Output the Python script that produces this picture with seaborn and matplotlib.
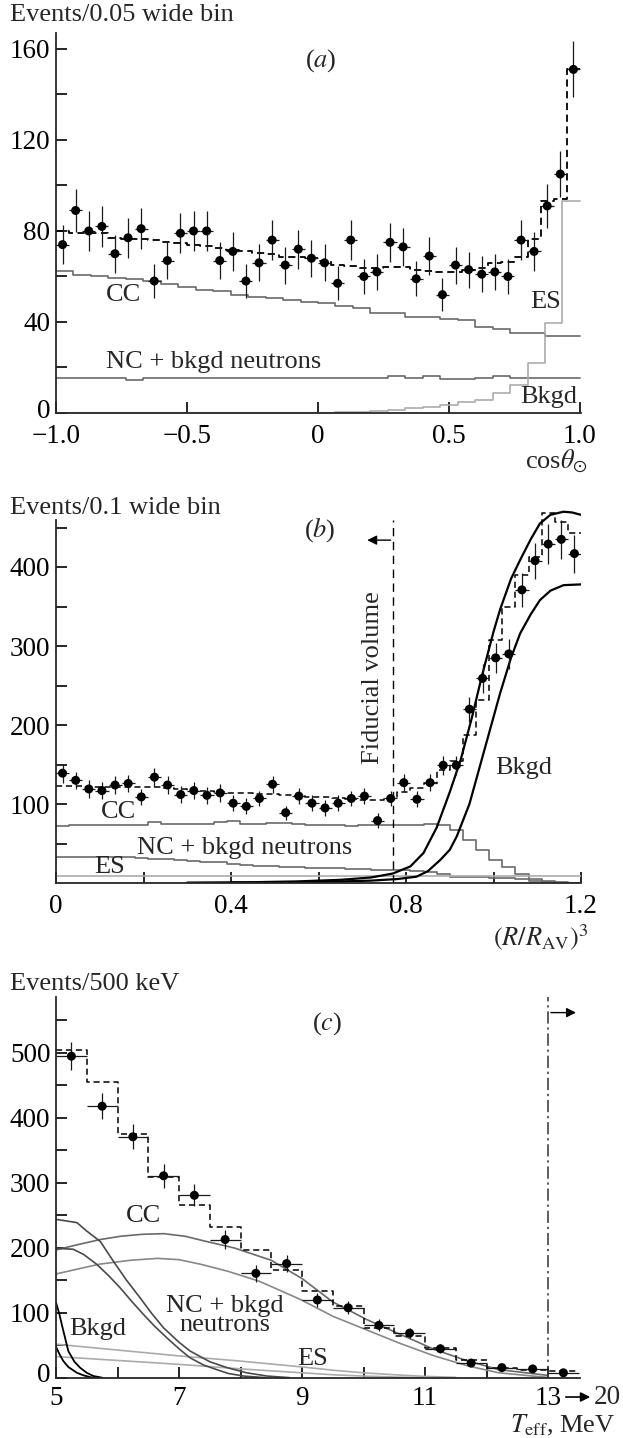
import numpy as np
import pandas as pd
import seaborn as sns
import matplotlib.pyplot as plt
from matplotlib.transforms import ScaledTranslation

# ---------------- data ----------------
# (a) cos(theta_sun), 40 data bins of 0.05, MC shapes in 30 bins
a_pts = [74, 89, 80, 82, 70, 77, 81, 58, 67, 79, 80, 80, 67, 71, 58, 66, 76, 65, 72, 68,
         66, 57, 76, 60, 62, 75, 73, 59, 69, 52, 65, 63, 61, 62, 60, 76, 71, 91, 105, 151]
a_err = [8.6, 9.4, 8.9, 9.1, 8.4, 8.8, 9.0, 7.6, 8.2, 8.9, 8.9, 8.9, 8.2, 8.4, 7.6, 8.1, 8.7, 8.1, 8.5, 8.2,
         8.1, 7.5, 8.7, 7.7, 7.9, 8.7, 8.5, 7.7, 8.3, 7.2, 8.1, 7.9, 7.8, 7.9, 7.7, 8.7, 8.4, 9.5, 10.2, 12.3]
a_total = [80, 79, 79, 79, 77, 76.5, 76.5, 76, 75, 74.7, 74, 73.5, 72.5, 71.5, 71, 70.3, 70, 68.6, 68.6, 68,
           67, 65, 64.6, 63.7, 63.7, 64, 64, 62.8, 62.4, 62, 62, 62.8, 63.7, 65.9, 66.2, 68.6, 76.3, 93, 94, 151]
a_cc = [62.6, 60.7, 60.0, 59.5, 59.0, 58.0, 56.5, 55.5, 54.0, 53.5, 52.0, 51.0, 50.5, 49.5, 49.0,
        48.5, 47.0, 46.0, 44.0, 44.0, 42.3, 42.3, 41.3, 41.0, 37.8, 37.0, 35.3, 35.0, 34.0, 34.0]
a_nc = [15.2, 15.2, 15.2, 15.2, 14.5, 15.2, 15.2, 15.5, 15.2, 15.5, 15.5, 15.5, 15.2, 15.5, 15.2,
        15.2, 15.2, 15.2, 15.5, 16.3, 15.5, 16.3, 15.0, 15.0, 15.5, 16.3, 15.2, 15.5, 15.5, 15.5]
a_es = [0, 0, 0, 0, 0, 0, 0, 0, 0, 0, 0, 0, 0.1, 0.1, 0.2,
        0.2, 0.3, 0.5, 0.8, 1.5, 2.0, 2.8, 3.5, 4.8, 5.7, 8.6, 12.3, 22, 39.4, 93]

# (b) (R/R_AV)^3, 40 bins of 0.03
b_pts = [139, 130, 119, 117, 124, 126, 109, 134, 124, 112, 117, 111, 114, 101, 97, 107, 125, 89, 110, 101,
         95, 101, 107, 110, 79, 107, 127, 106, 127, 149, 149, 220, 259, 285, 290, 371, 408, 429, 435, 417]
b_err = [12, 11, 11, 11, 11, 11, 10, 12, 11, 11, 11, 11, 11, 10, 10, 10, 11, 9, 10, 10,
         10, 10, 10, 10, 9, 10, 11, 10, 11, 12, 12, 16, 18, 19, 19, 22, 23, 25, 25, 24]
b_total = [123, 123, 122, 122, 122, 122, 121, 121, 120, 119, 117, 116, 115, 114, 114, 113, 113, 112, 110, 109,
           109, 108, 106, 105, 105, 108, 115, 120, 127, 143, 155, 187, 232, 308, 350, 390, 413, 468, 457, 443]
b_cc = [72, 73, 73, 73, 73, 74, 74, 77, 75, 75, 75, 75, 77, 78, 75, 75, 76, 76, 75, 74,
        73, 73, 72, 73, 73, 74, 74, 74, 75, 74, 67, 54, 42, 29, 20, 12, 5, 1, 0, 0]
b_nc = [33, 33, 33, 33, 33, 33, 32, 31, 30, 29, 28, 27, 26, 24, 23, 22, 21, 20, 20, 19,
        19, 19, 18, 18, 17, 17, 16, 15, 14, 12, 8, 8, 7, 6, 6, 5, 3, 2, 1, 0]
b_es = [9, 9, 9, 9, 9, 9, 9, 9, 9, 9, 9, 9, 9, 9, 9, 9, 9, 9, 9, 9,
        9, 9, 9, 9, 9, 9, 9, 9, 9, 9, 9, 9, 9, 9, 9, 9, 9, 9, 9, 9]
# smooth background curves (upper / lower)
b_bk1_x = [0.3, 0.45, 0.55, 0.65, 0.72, 0.77, 0.81, 0.84, 0.87, 0.9, 0.925, 0.95, 0.973, 1.0,
           1.015, 1.04, 1.061, 1.085, 1.106, 1.13, 1.16, 1.18, 1.2]
b_bk1_y = [0.5, 1, 2, 4, 7, 12, 21, 38, 70, 115, 156, 208, 261, 318, 346, 385, 409, 435, 455, 466, 470, 469, 466]
b_bk2_x = [0.4, 0.55, 0.65, 0.72, 0.78, 0.824, 0.85, 0.878, 0.9, 0.916, 0.945, 0.973, 1.0, 1.015,
           1.04, 1.061, 1.085, 1.106, 1.13, 1.16, 1.2]
b_bk2_y = [0.5, 1, 2, 3, 5, 8, 15, 29, 42, 59, 100, 156, 210, 240, 285, 316, 340, 358, 370, 377, 378]

# (c) T_eff, 500 keV bins, last bin is 13 -> 20 MeV
c_pts = [495, 418, 371, 311, 281, 213, 161, 176, 120, 108, 81, 69, 45, 23, 16, 14, 8]
c_err = [22, 20, 19, 18, 17, 15, 13, 13, 11, 10, 9, 8, 7, 5, 4, 4, 3]
c_total = [504, 455, 375, 309, 266, 233, 197, 166, 134, 111, 77, 64, 46, 28, 16, 12, 11]
c_cc1_x = [5.0, 5.35, 5.72, 6.05, 6.4, 6.75, 7.1, 7.4, 7.9, 8.5, 9.0, 9.5, 10.05, 10.6, 11.15, 11.7, 12.2, 12.75, 13.0]
c_cc1_y = [197, 205, 213, 218, 221, 222, 218, 211, 200, 181, 153, 117, 90, 67, 44, 26, 13, 6.7, 4]
c_cc2_x = [5.0, 5.7, 6.2, 6.65, 7.0, 7.35, 7.8, 8.3, 8.97, 9.5, 10.05, 10.6, 11.15, 11.7, 12.2, 12.75, 13.0]
c_cc2_y = [160, 175, 181, 184, 182, 175, 164, 149, 121, 95, 74, 53, 34, 18.5, 8, 3, 1]
c_nc1_x = [5.0, 5.34, 5.5, 5.72, 5.93, 6.15, 6.37, 6.55, 6.75, 7.0, 7.18, 7.5, 7.78, 8.1, 8.43, 8.8]
c_nc1_y = [244, 239, 226, 210, 180, 150, 123, 100, 77, 55, 41.5, 25, 16, 8, 3, 0.5]
c_nc2_x = [5.0, 5.28, 5.45, 5.66, 5.85, 6.04, 6.23, 6.42, 6.6, 6.8, 7.0, 7.18, 7.4, 7.61, 7.8, 8.05, 8.4]
c_nc2_y = [199.5, 198, 190, 175, 158, 139, 118, 98, 80, 62, 45, 31, 20, 13, 7, 3, 0.5]
c_es1_x = [5, 6, 7, 8, 9, 9.5, 10, 10.5, 11, 11.5]
c_es1_y = [52, 43, 34, 26, 17, 12, 8, 5, 2.5, 1]
c_es2_x = [5, 6, 7, 8, 9, 9.5, 10, 10.5, 11]
c_es2_y = [33, 27, 21, 14, 8, 5, 3, 1.5, 0.5]
c_bk1_x = [5.0, 5.05, 5.1, 5.2, 5.3, 5.39, 5.5, 5.61, 5.75]
c_bk1_y = [116, 100, 80, 41.5, 25, 16, 8, 3, 0.5]
c_bk2_x = [5.0, 5.06, 5.12, 5.2, 5.34, 5.45, 5.57, 5.7]
c_bk2_y = [48, 36, 26, 17, 8, 4, 1, 0]

# ---------------- style ----------------
sns.set_theme(style='ticks')
plt.rcParams['font.family'] = ['Liberation Serif', 'DejaVu Serif']
plt.rcParams['mathtext.fontset'] = 'stix'
plt.rcParams['axes.linewidth'] = 1.3
FS = 19        # labels inside / around the plots
TFS = 19.5     # tick labels
DARK = '#6a6a6a'
LIGHT = '#ababab'

W, H = 623, 1438
fig = plt.figure(figsize=(W / 100, H / 100), dpi=100)


def px_axes(x0, x1, y_bot, y_top):
    return fig.add_axes([x0 / W, 1 - y_bot / H, (x1 - x0) / W, (y_bot - y_top) / H])


def step_hist(ax, edges, vals, **kw):
    edges = np.asarray(edges, dtype=float)
    df = pd.DataFrame({'x': 0.5 * (edges[1:] + edges[:-1]), 'w': vals})
    sns.histplot(data=df, x='x', weights='w', bins=edges.tolist(), element='step', fill=False, ax=ax, **kw)


def data_points(ax, x, y, yerr, xerr):
    ax.errorbar(x, y, yerr=yerr, xerr=xerr, fmt='none', ecolor='#1a1a1a', elinewidth=0.9, capsize=0, zorder=4)
    sns.scatterplot(x=x, y=y, s=42, color='black', edgecolor='none', ax=ax, zorder=5)


def style_axes(ax):
    sns.despine(ax=ax)
    ax.tick_params(direction='in', length=8, width=1.2, labelsize=TFS, colors='black')
    ax.tick_params(axis='x', pad=8)
    ax.tick_params(axis='y', pad=4)
    ax.set_xlabel('')
    ax.set_ylabel('')
    ax.patch.set_alpha(0)


def lift_zero_label(ax, dy_px=5):
    # the "0" on the y axis sits a little above the x axis, clear of the x labels
    lab = ax.get_yticklabels()[0]
    lab.set_transform(lab.get_transform() + ScaledTranslation(0, dy_px / 100, fig.dpi_scale_trans))


# ---------------- (a) ----------------
ax = px_axes(56, 581, 413, 33)
e40 = np.linspace(-1, 1, 41)
e30 = np.linspace(-1, 1, 31)
c40 = 0.5 * (e40[1:] + e40[:-1])
step_hist(ax, e30, a_cc, color=DARK, linewidth=1.2)
step_hist(ax, e30, a_nc, color=DARK, linewidth=1.2)
step_hist(ax, e30, a_es, color=LIGHT, linewidth=1.2)
step_hist(ax, e40, a_total, color='black', linewidth=1.3, linestyle=(0, (4, 2.5)))
data_points(ax, c40, a_pts, a_err, 0.025)
ax.set_xlim(-1, 1.004)
ax.set_ylim(0, 167)
ax.set_xticks([-1, -0.5, 0, 0.5, 1.0])
ax.set_xticklabels(['\u22121.0', '\u22120.5', '0', '0.5', '1.0'])
ax.set_yticks(range(0, 161, 20))
ax.set_yticklabels(['0', '', '40', '', '80', '', '120', '', '160'])
style_axes(ax)
lift_zero_label(ax)
ax.text(-0.744, 51.9, 'CC', fontsize=FS, ha='center', va='center')
ax.text(-0.81, 22.3, 'NC + bkgd neutrons', fontsize=FS, ha='left', va='center')
ax.text(0.87, 48.9, 'ES', fontsize=FS, ha='center', va='center')
ax.text(0.882, 7.2, 'Bkgd', fontsize=FS, ha='center', va='center')
ax.text(0.01, 155, r'($\mathit{a}$)', fontsize=FS, ha='center', va='center')

# ---------------- (b) ----------------
# y scale: 0 at 883 px, 0.79 px per event; axis spine stops near 460
ax = px_axes(56, 581, 883, 883 - 476 * 0.79)
eb = np.linspace(0, 1.2, 41)
cb = 0.5 * (eb[1:] + eb[:-1])
step_hist(ax, eb, b_cc, color=DARK, linewidth=1.2)
step_hist(ax, eb, b_nc, color=DARK, linewidth=1.2)
step_hist(ax, eb, b_es, color=LIGHT, linewidth=1.2)
sns.lineplot(x=b_bk1_x, y=b_bk1_y, color='black', linewidth=1.6, ax=ax, sort=False)
sns.lineplot(x=b_bk2_x, y=b_bk2_y, color='black', linewidth=1.6, ax=ax, sort=False)
step_hist(ax, eb, b_total, color='black', linewidth=1.1, linestyle=(0, (4, 2.5)))
data_points(ax, cb, b_pts, b_err, 0.015)
ax.vlines(0.771, 0, 460, color='black', linewidth=1.0, linestyles=(0, (6, 4)))
ax.annotate('', xy=(0.705, 434), xytext=(0.771, 434),
            arrowprops=dict(arrowstyle='-|>', color='black', lw=1.0, mutation_scale=14))
ax.set_xlim(0, 1.2)
ax.set_ylim(0, 476)
ax.set_xticks(np.round(np.arange(0, 1.21, 0.2), 1))
ax.set_xticklabels(['0', '', '0.4', '', '0.8', '', '1.2'])
ax.set_yticks(range(50, 451, 50))
ax.set_yticklabels(['', '100', '', '200', '', '300', '', '400', ''])
style_axes(ax)
ax.spines['left'].set_bounds(0, 460)
ax.text(0.142, 90, 'CC', fontsize=FS, ha='center', va='center')
ax.text(0.185, 44, 'NC + bkgd neutrons', fontsize=FS, ha='left', va='center')
ax.text(0.123, 20, 'ES', fontsize=FS, ha='center', va='center')
ax.text(1.07, 145, 'Bkgd', fontsize=FS, ha='center', va='center')
ax.text(0.725, 370, 'Fiducial volume', fontsize=FS, rotation=90, ha='center', va='top')
ax.text(0.603, 448, r'($\mathit{b}$)', fontsize=FS, ha='center', va='center')

# ---------------- (c) ----------------
ax = px_axes(56, 580, 1378, 997)
ec = np.arange(5, 13.51, 0.5)
cc_ = 0.5 * (ec[1:] + ec[:-1])
sns.lineplot(x=c_es1_x, y=c_es1_y, color=LIGHT, linewidth=1.2, ax=ax)
sns.lineplot(x=c_es2_x, y=c_es2_y, color=LIGHT, linewidth=1.2, ax=ax)
sns.lineplot(x=c_cc1_x, y=c_cc1_y, color=DARK, linewidth=1.2, ax=ax)
sns.lineplot(x=c_cc2_x, y=c_cc2_y, color='#888888', linewidth=1.2, ax=ax)
sns.lineplot(x=c_nc1_x, y=c_nc1_y, color='#4a4a4a', linewidth=1.2, ax=ax)
sns.lineplot(x=c_nc2_x, y=c_nc2_y, color='#4a4a4a', linewidth=1.2, ax=ax)
sns.lineplot(x=c_bk1_x, y=c_bk1_y, color='black', linewidth=1.3, ax=ax)
sns.lineplot(x=c_bk2_x, y=c_bk2_y, color='black', linewidth=1.3, ax=ax)
step_hist(ax, ec, c_total, color='black', linewidth=1.1, linestyle=(0, (4, 2.5)))
data_points(ax, cc_, c_pts, c_err, 0.25)
ax.vlines(13, 0, 590, color='#333333', linewidth=1.1, linestyles=(0, (8, 2.5, 1.5, 2.5)))
ax.annotate('', xy=(13.5, 562), xytext=(13.0, 562),
            arrowprops=dict(arrowstyle='-|>', color='black', lw=1.0, mutation_scale=14))
ax.set_xlim(5, 13.52)
ax.set_ylim(0, 586)
ax.set_xticks(range(5, 14))
ax.set_xticklabels(['5', '', '7', '', '9', '', '11', '', '13'])
ax.set_yticks(range(0, 551, 50))
ax.set_yticklabels(['0', '', '100', '', '200', '', '300', '', '400', '', '500', ''])
style_axes(ax)
ax.tick_params(axis='x', pad=6)
lift_zero_label(ax)
ax.text(6.42, 249, 'CC', fontsize=FS, ha='center', va='center')
ax.text(7.75, 96, 'NC + bkgd\nneutrons', fontsize=FS, ha='center', va='center', linespacing=0.85)
ax.text(5.675, 75, 'Bkgd', fontsize=FS, ha='center', va='center')
ax.text(9.18, 29, 'ES', fontsize=FS, ha='center', va='center')
ax.text(9.4, 545, r'($\mathit{c}$)', fontsize=FS, ha='center', va='center')

# "13 -> 20" on the last tick
fig.add_artist(plt.Annotation('', xy=(593, H - 1397), xytext=(563, H - 1397), xycoords='figure pixels',
                              textcoords='figure pixels',
                              arrowprops=dict(arrowstyle='-|>', color='black', lw=1.2, mutation_scale=14)))
fig.text(607 / W, 1 - 1397 / H, '20', fontsize=TFS, ha='center', va='center')

# axis titles
fig.text(10 / W, 1 - 15 / H, 'Events/0.05 wide bin', fontsize=FS, ha='left', va='center')
fig.text(10 / W, 1 - 508 / H, 'Events/0.1 wide bin', fontsize=FS, ha='left', va='center')
fig.text(10 / W, 1 - 984 / H, 'Events/500 keV', fontsize=FS, ha='left', va='center')
fig.text(588 / W, 1 - 461 / H, r'cos$\theta_{\odot}$', fontsize=FS, ha='right', va='center')
fig.text(588 / W, 1 - 937 / H, r'$(R/R_{\mathrm{AV}})^3$', fontsize=FS, ha='right', va='center')
fig.text(615 / W, 1 - 1425 / H, r'$T_{\mathrm{eff}}$, MeV', fontsize=FS, ha='right', va='center')

fig.savefig('out.png', dpi=100)
